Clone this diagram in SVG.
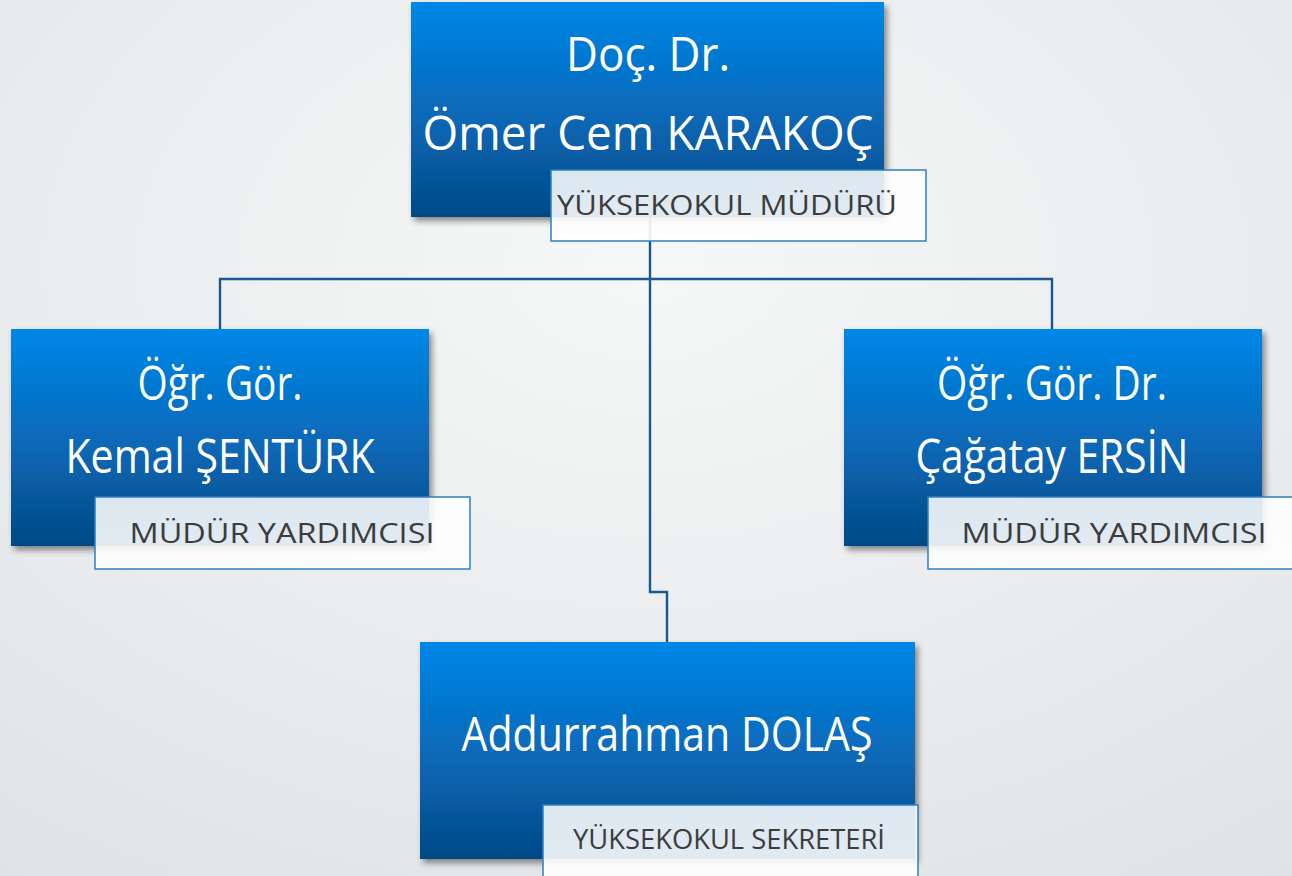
<svg xmlns="http://www.w3.org/2000/svg" width="1292" height="876" viewBox="0 0 1292 876">
<defs>
<radialGradient id="bg" cx="0.5" cy="0.3" r="0.9">
<stop offset="0" stop-color="#f6f7f7"/>
<stop offset="1" stop-color="#dfe2e4"/>
</radialGradient>
<linearGradient id="nodeFill" x1="0" y1="0" x2="0" y2="1">
<stop offset="0" stop-color="#0387e8"/>
<stop offset="0.55" stop-color="#0867b5"/>
<stop offset="1" stop-color="#054985"/>
</linearGradient>
<linearGradient id="labelFill" x1="0" y1="0" x2="0" y2="1">
<stop offset="0" stop-color="#ffffff" stop-opacity="0.86"/>
<stop offset="1" stop-color="#ffffff" stop-opacity="0.9"/>
</linearGradient>
<filter id="shadow" x="-10%" y="-10%" width="125%" height="130%">
<feDropShadow dx="3" dy="4" stdDeviation="3" flood-color="#000" flood-opacity="0.45"/>
</filter>
</defs>
<style>
.node{fill:url(#nodeFill);filter:url(#shadow);}
.label{fill:url(#labelFill);stroke:#2d7fc4;stroke-width:1.5;}
.name{font-family:"Open Sans","Noto Sans",sans-serif;font-size:47px;fill:#ffffff;text-anchor:middle;}
.role{font-family:"Open Sans","Noto Sans",sans-serif;font-size:28px;fill:#3c3c3c;text-anchor:middle;}
.conn{fill:none;stroke:#1a5895;stroke-width:2.4;}
</style>
<rect x="0" y="0" width="1292" height="876" fill="url(#bg)"/>
<g id="connectors">
<path class="conn" d="M650 217 V279"/>
<path class="conn" d="M220 329 V279 H1052 V329"/>
<path class="conn" d="M650 279 V592 H667 V642"/>
</g>
<g id="node-director">
<rect class="node" x="411" y="2" width="473" height="215"/>
<text class="name" x="648" y="71" textLength="164" lengthAdjust="spacingAndGlyphs">Doç. Dr.</text>
<text class="name" x="648" y="150" textLength="451" lengthAdjust="spacingAndGlyphs">Ömer Cem KARAKOÇ</text>
<rect class="label" x="551" y="170" width="375" height="71"/>
<text class="role" x="727" y="215" textLength="340" lengthAdjust="spacingAndGlyphs">YÜKSEKOKUL MÜDÜRÜ</text>
</g>
<g id="node-deputy-left">
<rect class="node" x="11" y="329" width="418" height="217"/>
<text class="name" x="220" y="400" textLength="165" lengthAdjust="spacingAndGlyphs">Öğr. Gör.</text>
<text class="name" x="220" y="473" textLength="309" lengthAdjust="spacingAndGlyphs">Kemal ŞENTÜRK</text>
<rect class="label" x="95" y="497" width="375" height="72"/>
<text class="role" x="282" y="543" textLength="305" lengthAdjust="spacingAndGlyphs">MÜDÜR YARDIMCISI</text>
</g>
<g id="node-deputy-right">
<rect class="node" x="844" y="329" width="418" height="217"/>
<text class="name" x="1052" y="400" textLength="230" lengthAdjust="spacingAndGlyphs">Öğr. Gör. Dr.</text>
<text class="name" x="1052" y="473" textLength="273" lengthAdjust="spacingAndGlyphs">Çağatay ERSİN</text>
<rect class="label" x="928" y="497" width="375" height="72"/>
<text class="role" x="1114" y="543" textLength="305" lengthAdjust="spacingAndGlyphs">MÜDÜR YARDIMCISI</text>
</g>
<g id="node-secretary">
<rect class="node" x="420" y="642" width="495" height="217"/>
<text class="name" x="667" y="751" textLength="411" lengthAdjust="spacingAndGlyphs">Addurrahman DOLAŞ</text>
<rect class="label" x="543" y="805" width="375" height="80"/>
<text class="role" x="729" y="849" textLength="312" lengthAdjust="spacingAndGlyphs">YÜKSEKOKUL SEKRETERİ</text>
</g>
</svg>
